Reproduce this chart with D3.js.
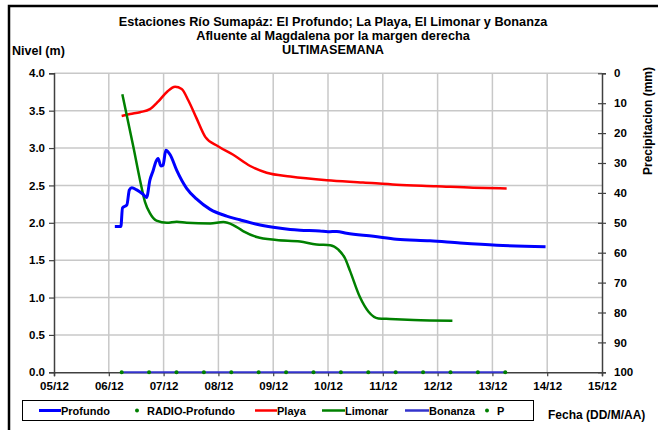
<!DOCTYPE html>
<html><head><meta charset="utf-8">
<script src="https://cdn.jsdelivr.net/npm/d3@7"></script>
<style>
body{margin:0;background:#fff;}
svg{display:block;font-family:"Liberation Sans",Arial,sans-serif;}
text{font-weight:bold;fill:#000;}
</style></head>
<body><svg id="c" width="658" height="430"></svg>
<script>
// ---- data (x = days since 05/12 00:00) ----
const tickLabels = ["05/12","06/12","07/12","08/12","09/12","10/12","11/12","12/12","13/12","14/12","15/12"];
const levelTicks = [0,0.5,1.0,1.5,2.0,2.5,3.0,3.5,4.0];
const precipTicks = [0,10,20,30,40,50,60,70,80,90,100];

const profundoT = [1.11,1.22,1.25,1.33,1.375,1.42,1.51,1.62,1.69,1.75,1.81,1.86,1.90,1.95,1.99,2.04,2.12,2.24,2.42,2.60,2.85,3.15,3.39,3.70,4.00,4.31,4.49,4.85,5.00,5.16,5.34,5.83,6.25,6.86,7.41,8.08,8.97];
const profundoV = [1.95,1.95,2.20,2.24,2.44,2.47,2.44,2.385,2.34,2.57,2.70,2.82,2.86,2.76,2.77,2.97,2.91,2.70,2.46,2.32,2.18,2.09,2.04,1.98,1.94,1.91,1.90,1.89,1.88,1.885,1.86,1.82,1.78,1.76,1.73,1.70,1.68];

const playaT = [1.235,1.39,1.57,1.75,1.90,2.06,2.21,2.33,2.45,2.60,2.76,3.00,3.27,3.58,3.88,4.31,4.98,5.64,6.25,6.98,7.65,8.26];
const playaV = [3.43,3.455,3.48,3.52,3.62,3.75,3.82,3.79,3.64,3.40,3.15,3.02,2.91,2.76,2.67,2.62,2.57,2.54,2.51,2.49,2.47,2.46];

const limonarT = [1.247,1.447,1.57,1.66,1.75,1.87,2.06,2.24,2.42,2.85,3.09,3.27,3.45,3.70,4.06,4.49,4.79,5.04,5.19,5.31,5.40,5.58,5.74,5.92,6.13,6.56,7.27];
const limonarV = [3.72,3.02,2.57,2.28,2.13,2.03,2.00,2.015,2.00,1.99,2.01,1.97,1.89,1.81,1.77,1.75,1.71,1.70,1.64,1.525,1.36,1.01,0.81,0.72,0.713,0.70,0.69];

const radioT = [1.235,1.735,2.235,2.735,3.235,3.735,4.235,4.735,5.235,5.735,6.235,6.735,7.235,7.735,8.235];
const radioV = [0,0,0,0,0,0,0,0,0,0,0,0,0,0,0];
const bonanzaT = radioT;
const bonanzaV = [0,0,0,0,0,0,0,0,0,0,0,0,0,0,0];

// ---- layout ----
const svg = d3.select("#c");
const L = 54, R = 602, T = 73.3, B = 372.3;
const x = d3.scaleLinear().domain([0,10]).range([L,R]);
const y = d3.scaleLinear().domain([0,4]).range([B,T]);
const y2 = d3.scaleLinear().domain([0,100]).range([T,B]);

// outer frame
svg.append("rect").attr("x",9).attr("y",6).attr("width",700).attr("height",500)
  .attr("fill","none").attr("stroke","#000").attr("stroke-width",2.5);

// grid
const grid = svg.append("g").attr("stroke","#c8c8c8").attr("stroke-width",1.5);
tickLabels.forEach((d,i)=>{ if(i>0 && i<10) grid.append("line").attr("x1",x(i)).attr("x2",x(i)).attr("y1",T).attr("y2",B); });
levelTicks.forEach(v=>{ if(v>0) grid.append("line").attr("x1",L).attr("x2",R).attr("y1",y(v)).attr("y2",y(v)); });

// axes
const axisColor = "#404040";
const gL = svg.append("g").attr("transform",`translate(${L},0)`)
  .call(d3.axisLeft(y).tickValues(levelTicks).tickFormat(d3.format(".1f")).tickSize(5).tickPadding(4));
const gR = svg.append("g").attr("transform",`translate(${R},0)`)
  .call(d3.axisRight(y2).tickValues(precipTicks).tickSize(4).tickPadding(8));
gR.selectAll(".tick line").attr("x1",-4);
const gB = svg.append("g").attr("transform",`translate(0,${B})`)
  .call(d3.axisBottom(x).tickValues(d3.range(0,11)).tickFormat(i=>tickLabels[i]).tickSize(4).tickPadding(6));
[gL,gR,gB].forEach(g=>{
  g.select(".domain").attr("stroke",axisColor).attr("stroke-width",1.5);
  g.selectAll(".tick line").attr("stroke",axisColor).attr("stroke-width",1.2);
  g.selectAll("text").attr("font-size","11.5px").attr("font-weight","bold")
   .attr("font-family","'Liberation Sans',Arial,sans-serif").attr("fill","#000");
});

// series
const mk = (T_,V_) => T_.map((t,i)=>[t,V_[i]]);
const line = d3.line().x(d=>x(d[0])).y(d=>y(d[1]));
svg.append("path").datum(mk(bonanzaT,bonanzaV)).attr("d",line.curve(d3.curveLinear))
  .attr("fill","none").attr("stroke","#3333cc").attr("stroke-width",2);
svg.append("path").datum(mk(playaT,playaV)).attr("d",line.curve(d3.curveMonotoneX))
  .attr("fill","none").attr("stroke","#ff0000").attr("stroke-width",2.5);
svg.append("path").datum(mk(limonarT,limonarV)).attr("d",line.curve(d3.curveMonotoneX))
  .attr("fill","none").attr("stroke","#008000").attr("stroke-width",2.5);
svg.append("path").datum(mk(profundoT,profundoV)).attr("d",line.curve(d3.curveMonotoneX))
  .attr("fill","none").attr("stroke","#0000ff").attr("stroke-width",3);
svg.append("g").selectAll("circle").data(mk(radioT,radioV)).join("circle")
  .attr("cx",d=>x(d[0])).attr("cy",d=>y(d[1])).attr("r",2).attr("fill","#008000");

// titles
const title = ["Estaciones Río Sumapáz: El Profundo; La Playa, El Limonar y Bonanza",
               "Afluente al Magdalena por la margen derecha","ULTIMASEMANA"];
title.forEach((t,i)=>svg.append("text").attr("x",333).attr("y",26+i*14)
  .attr("text-anchor","middle").attr("font-size","12.7px").text(t));
svg.append("text").attr("x",12).attr("y",55).attr("font-size","12.5px").text("Nivel (m)");
svg.append("text").attr("transform","translate(652,121) rotate(-90)").attr("text-anchor","middle")
  .attr("font-size","12px").text("Precipitacion (mm)");
svg.append("text").attr("x",548).attr("y",419).attr("font-size","12px").text("Fecha (DD/M/AA)");

// legend
const lg = svg.append("g");
lg.append("rect").attr("x",22.5).attr("y",400.5).attr("width",511).attr("height",20)
  .attr("fill","#fff").attr("stroke","#000").attr("stroke-width",1);
const items = [
  {name:"Profundo", type:"line", color:"#0000ff", x0:39, x1:61, w:3},
  {name:"RADIO-Profundo", type:"dot", color:"#008000", x0:137},
  {name:"Playa", type:"line", color:"#ff0000", x0:255, x1:277, w:2.5},
  {name:"Limonar", type:"line", color:"#008000", x0:322, x1:345, w:2.5},
  {name:"Bonanza", type:"line", color:"#3333cc", x0:405, x1:429, w:2.5},
  {name:"P", type:"dot", color:"#008000", x0:487}
];
items.forEach(it=>{
  const cy = 410.5;
  if(it.type==="line"){
    lg.append("line").attr("x1",it.x0).attr("x2",it.x1).attr("y1",cy).attr("y2",cy)
      .attr("stroke",it.color).attr("stroke-width",it.w);
    lg.append("text").attr("x",it.x1).attr("y",cy+4).attr("font-size","11px").text(it.name);
  } else {
    lg.append("circle").attr("cx",it.x0).attr("cy",cy).attr("r",2).attr("fill",it.color);
    lg.append("text").attr("x",it.x0+10).attr("y",cy+4).attr("font-size","11px").text(it.name);
  }
});
</script></body></html>
